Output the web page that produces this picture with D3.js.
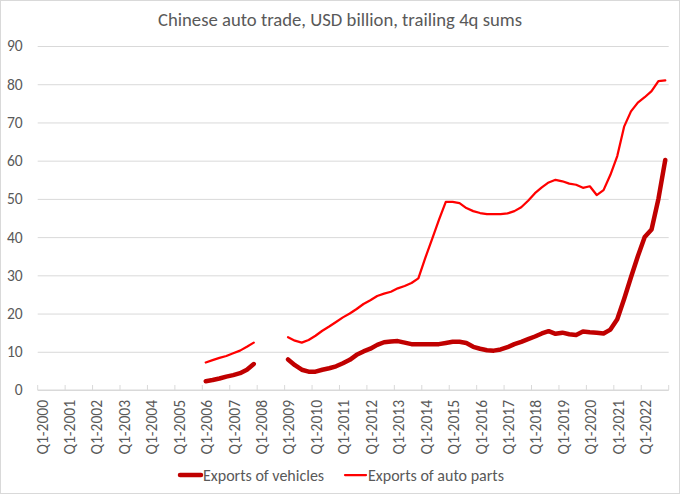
<!DOCTYPE html>
<html>
<head>
<meta charset="utf-8">
<script src="https://cdn.jsdelivr.net/npm/d3@7"></script>
<style>
  html, body { margin: 0; padding: 0; background: #fff; }
  svg { display: block; }
  text { font-family: Carlito, Calibri, Lato, sans-serif; fill: #595959; }
</style>
</head>
<body>
<svg id="chart" width="680" height="494"></svg>
<script>
// ---- data ----
const years = d3.range(2000, 2023);
const quarters = ["Q1", "Q2", "Q3", "Q4"];
const categories = years.flatMap(y => quarters.map(q => q + "-" + y));

const yTicks = [0, 10, 20, 30, 40, 50, 60, 70, 80, 90];

const vehicles = [
  null, null, null, null,   // 2000
  null, null, null, null,   // 2001
  null, null, null, null,   // 2002
  null, null, null, null,   // 2003
  null, null, null, null,   // 2004
  null, null, null, null,   // 2005
  2.3, 2.6, 3.0, 3.5,       // 2006
  3.9, 4.4, 5.3, 6.8,       // 2007
  null, null, null, null,   // 2008
  8.0, 6.5, 5.3, 4.8,       // 2009
  4.8, 5.3, 5.7, 6.2,       // 2010
  7.0, 7.9, 9.2, 10.1,      // 2011
  10.8, 11.8, 12.5, 12.7,   // 2012
  12.8, 12.4, 12.0, 12.0,   // 2013
  12.0, 12.0, 12.0, 12.3,   // 2014
  12.6, 12.6, 12.3, 11.3,   // 2015
  10.8, 10.4, 10.3, 10.6,   // 2016
  11.2, 12.0, 12.6, 13.3,   // 2017
  14.0, 14.8, 15.4, 14.7,   // 2018
  15.0, 14.6, 14.4, 15.3,   // 2019
  15.1, 15.0, 14.8, 15.8,   // 2020
  18.5, 23.8, 29.5, 35.0,   // 2021
  40.0, 42.0, 50.0, 60.2    // 2022
];

const parts = [
  null, null, null, null,   // 2000
  null, null, null, null,   // 2001
  null, null, null, null,   // 2002
  null, null, null, null,   // 2003
  null, null, null, null,   // 2004
  null, null, null, null,   // 2005
  7.2, 7.8, 8.4, 8.9,       // 2006
  9.6, 10.3, 11.3, 12.4,    // 2007
  null, null, null, null,   // 2008
  13.8, 12.9, 12.4, 13.1,   // 2009
  14.2, 15.5, 16.6, 17.8,   // 2010
  19.0, 20.0, 21.2, 22.5,   // 2011
  23.5, 24.6, 25.2, 25.7,   // 2012
  26.6, 27.2, 28.0, 29.2,   // 2013
  34.5, 39.5, 44.5, 49.2,   // 2014
  49.2, 48.9, 47.6, 46.8,   // 2015
  46.3, 46.0, 46.0, 46.0,   // 2016
  46.2, 46.8, 47.8, 49.5,   // 2017
  51.5, 53.0, 54.3, 55.0,   // 2018
  54.6, 54.0, 53.7, 52.9,   // 2019
  53.3, 51.0, 52.3, 56.3,   // 2020
  61.2, 68.9, 72.9, 75.2,   // 2021
  76.6, 78.2, 80.8, 81.0    // 2022
];

const seriesNames = ["Exports of vehicles", "Exports of auto parts"];
const seriesColors = ["#C00000", "#FF0000"];
const seriesWidths = [4.5, 2.25];
const title = "Chinese auto trade, USD billion, trailing 4q sums";

// ---- chart ----
const svg = d3.select("#chart");
const W = 680, H = 494;
const plot = { left: 37.7, right: 668.7, top: 46, bottom: 390 };
const FONT = "Carlito, Calibri, Lato, sans-serif";

svg.append("rect")
  .attr("x", 0.5).attr("y", 0.5).attr("width", W - 1).attr("height", H - 1)
  .attr("fill", "#fff").attr("stroke", "#d9d9d9").attr("stroke-width", 1);

const x = d3.scaleBand().domain(categories).range([plot.left, plot.right]).padding(0);
const y = d3.scaleLinear().domain([0, 90]).range([plot.bottom, plot.top]);

// title
svg.append("text")
  .attr("x", W / 2).attr("y", 26)
  .attr("text-anchor", "middle")
  .style("font-size", "18.7px")
  .text(title);

// gridlines + y labels
const yAxis = d3.axisLeft(y).tickValues(yTicks).tickSize(-(plot.right - plot.left)).tickPadding(15);
const gy = svg.append("g").attr("transform", `translate(${plot.left},0)`).call(yAxis);
gy.select(".domain").remove();
gy.selectAll(".tick line").attr("stroke", "#d9d9d9").attr("stroke-width", 1);
gy.selectAll(".tick text").style("font-size", "15.5px").attr("fill", "#595959")
  .style("font-family", FONT);

// x axis
const tickCats = categories.filter((c, i) => i % 4 === 0);
const gx = svg.append("g").attr("transform", `translate(0,${plot.bottom})`);
gx.append("line")
  .attr("x1", plot.left).attr("x2", plot.right)
  .attr("y1", 0).attr("y2", 0)
  .attr("stroke", "#d9d9d9").attr("stroke-width", 1);
const boundaries = tickCats.map(c => x(c)).concat([plot.right]);
gx.selectAll("line.tk").data(boundaries).enter().append("line")
  .attr("class", "tk")
  .attr("x1", d => d).attr("x2", d => d)
  .attr("y1", 0).attr("y2", -5)
  .attr("stroke", "#d9d9d9").attr("stroke-width", 1);
gx.selectAll("text.xl").data(tickCats).enter().append("text")
  .attr("class", "xl")
  .attr("transform", d => `translate(${x(d) + x.bandwidth() / 2 + 1},10) rotate(-90)`)
  .attr("text-anchor", "end")
  .attr("dy", "0.35em")
  .style("font-size", "15.5px")
  .text(d => d);

// lines
const line = d3.line()
  .defined(d => d != null)
  .x((d, i) => x(categories[i]) + x.bandwidth() / 2)
  .y(d => y(d));

[vehicles, parts].forEach((s, k) => {
  svg.append("path")
    .datum(s)
    .attr("fill", "none")
    .attr("stroke", seriesColors[k])
    .attr("stroke-width", seriesWidths[k])
    .attr("stroke-linejoin", "round")
    .attr("stroke-linecap", "round")
    .attr("d", line);
});

// legend
const legendItems = [
  { x1: 180, x2: 201, tx: 203 },
  { x1: 345, x2: 366, tx: 368 }
];
const lg = svg.append("g").attr("transform", "translate(0,475)");
legendItems.forEach((it, k) => {
  lg.append("line")
    .attr("x1", it.x1).attr("x2", it.x2).attr("y1", 0).attr("y2", 0)
    .attr("stroke", seriesColors[k]).attr("stroke-width", seriesWidths[k])
    .attr("stroke-linecap", "round");
  lg.append("text")
    .attr("x", it.tx).attr("y", 0).attr("dy", "0.35em")
    .style("font-size", "16px")
    .text(seriesNames[k]);
});
</script>
</body>
</html>
